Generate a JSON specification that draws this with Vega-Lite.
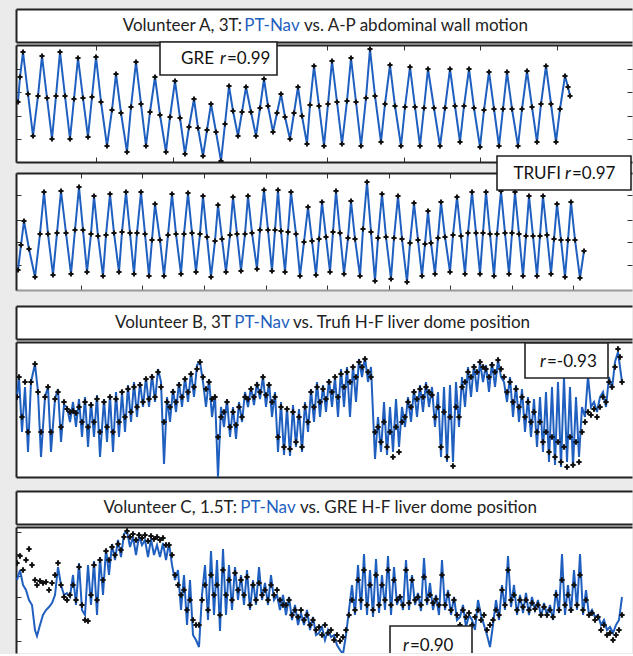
{
"$schema": "https://vega.github.io/schema/vega-lite/v6.json",
"background": "#ebebeb",
"padding": {"left": 15, "top": 9, "right": 0, "bottom": 0},
"spacing": 0,
"bounds": "flush",
"config": {
  "view": {"stroke": null, "fill": "white"},
  "axis": {"labels": false, "domain": false, "grid": false, "domainColor": "#222", "domainWidth": 2, "tickColor": "#333", "tickSize": -5, "tickWidth": 1},
  "text": {"font": "Lato"}
},
"vconcat": [
    {"width": 616, "height": 33,
     "data": {"values": [{"part": "Volunteer A, 3T:", "k": "a"}, {"part": "PT-Nav", "k": "b"}, {"part": "vs. A-P abdominal wall motion", "k": "c"}]},
     "layer": [
      {"transform": [{"filter": "datum.k == 'a'"}], "mark": {"type": "text", "align": "right", "baseline": "middle", "fontSize": 17, "color": "#222"},
       "encoding": {"x": {"datum": 242, "type": "quantitative", "scale": {"domain": [16, 632], "nice": false, "zero": false}, "axis": {"orient": "top", "domain": true, "ticks": false, "title": null}}, "y": {"datum": 16.5, "type": "quantitative", "scale": {"domain": [0, 33], "nice": false, "zero": false}, "axis": {"orient": "left", "domain": true, "ticks": false, "title": null}}, "text": {"field": "part"}}},
      {"transform": [{"filter": "datum.k == 'b'"}], "mark": {"type": "text", "align": "center", "baseline": "middle", "fontSize": 17, "color": "#1f5fbf"},
       "encoding": {"x": {"datum": 272, "type": "quantitative", "scale": {"domain": [16, 632], "nice": false, "zero": false}, "axis": {"orient": "bottom", "domain": true, "ticks": false, "title": null}}, "y": {"datum": 16.5, "type": "quantitative", "scale": {"domain": [0, 33], "nice": false, "zero": false}, "axis": null}, "text": {"field": "part"}}},
      {"transform": [{"filter": "datum.k == 'c'"}], "mark": {"type": "text", "align": "left", "baseline": "middle", "fontSize": 17, "color": "#222"},
       "encoding": {"x": {"datum": 304, "type": "quantitative", "scale": {"domain": [16, 632], "nice": false, "zero": false}, "axis": null}, "y": {"datum": 16.5, "type": "quantitative", "scale": {"domain": [0, 33], "nice": false, "zero": false}, "axis": null}, "text": {"field": "part"}}}
     ],
     "resolve": {"axis": {"x": "independent", "y": "independent"}}},
    {"width": 616, "height": 3, "data": {"values": [{}]}, "mark": {"type": "text", "text": ""}},
    {"width": 616, "height": 117,
     "data": {"values": [
{"t":18,"v":60},{"t":20,"v":85},{"t":23,"v":110},{"t":28,"v":68},{"t":33,"v":26},{"t":38,"v":66},
{"t":42,"v":106},{"t":47,"v":64},{"t":52,"v":23},{"t":56,"v":66},
{"t":60,"v":110},{"t":65,"v":66},{"t":70,"v":23},{"t":74,"v":63},
{"t":78,"v":104},{"t":83,"v":64},{"t":88,"v":25},{"t":92,"v":65},
{"t":96,"v":105},{"t":101,"v":60},{"t":107,"v":16},{"t":112,"v":52},
{"t":116,"v":88},{"t":121,"v":49},{"t":127,"v":10},{"t":131,"v":55},
{"t":136,"v":100},{"t":141,"v":58},{"t":146,"v":16},{"t":150,"v":50},
{"t":155,"v":85},{"t":160,"v":47},{"t":166,"v":10},{"t":170,"v":45},
{"t":175,"v":81},{"t":180,"v":44},{"t":185,"v":8},{"t":189,"v":35},
{"t":194,"v":63},{"t":198,"v":34},{"t":203,"v":6},{"t":207,"v":32},
{"t":211,"v":58},{"t":216,"v":30},{"t":221,"v":1},{"t":225,"v":38},
{"t":229,"v":76},{"t":233,"v":51},{"t":238,"v":26},{"t":242,"v":50},
{"t":246,"v":75},{"t":251,"v":50},{"t":256,"v":26},{"t":260,"v":54},
{"t":264,"v":83},{"t":268,"v":56},{"t":273,"v":30},{"t":277,"v":49},
{"t":281,"v":68},{"t":285,"v":45},{"t":290,"v":23},{"t":294,"v":49},
{"t":298,"v":75},{"t":302,"v":46},{"t":307,"v":18},{"t":310,"v":57},
{"t":314,"v":96},{"t":319,"v":56},{"t":324,"v":16},{"t":328,"v":58},
{"t":332,"v":101},{"t":337,"v":60},{"t":342,"v":18},{"t":347,"v":61},
{"t":351,"v":104},{"t":356,"v":60},{"t":361,"v":16},{"t":366,"v":64},
{"t":370,"v":113},{"t":375,"v":66},{"t":381,"v":20},{"t":385,"v":58},
{"t":390,"v":97},{"t":395,"v":56},{"t":401,"v":16},{"t":405,"v":55},
{"t":410,"v":95},{"t":415,"v":55},{"t":420,"v":16},{"t":424,"v":54},
{"t":428,"v":93},{"t":434,"v":54},{"t":440,"v":16},{"t":445,"v":54},
{"t":450,"v":93},{"t":455,"v":56},{"t":460,"v":20},{"t":464,"v":56},
{"t":469,"v":93},{"t":474,"v":54},{"t":480,"v":15},{"t":484,"v":52},
{"t":489,"v":90},{"t":494,"v":53},{"t":499,"v":16},{"t":503,"v":53},
{"t":507,"v":90},{"t":512,"v":53},{"t":518,"v":16},{"t":522,"v":53},
{"t":527,"v":91},{"t":532,"v":55},{"t":537,"v":20},{"t":541,"v":58},
{"t":546,"v":96},{"t":551,"v":58},{"t":556,"v":20},{"t":560,"v":53},
{"t":565,"v":86},{"t":568,"v":75},{"t":570,"v":66}
     ]},
     "layer": [
      {"mark": {"type": "line", "color": "#1f5fbf", "strokeWidth": 2, "clip": true},
       "encoding": {
        "x": {"field": "t", "type": "quantitative", "scale": {"domain": [16, 632], "nice": false, "zero": false}, "axis": {"orient": "top", "domain": true, "values": [96, 173, 250, 327, 404, 480, 557], "title": null}},
        "y": {"field": "v", "type": "quantitative", "scale": {"domain": [0, 117], "nice": false, "zero": false}, "axis": {"orient": "left", "domain": true, "values": [23, 46, 70, 93], "title": null}}}},
      {"mark": {"type": "point", "shape": "cross", "filled": true, "color": "#111", "size": 26, "opacity": 1, "clip": true},
       "encoding": {
        "x": {"field": "t", "type": "quantitative", "scale": {"domain": [16, 632], "nice": false, "zero": false}, "axis": {"orient": "bottom", "domain": true, "values": [96, 173, 250, 327, 404, 480, 557], "title": null}},
        "y": {"field": "v", "type": "quantitative", "scale": {"domain": [0, 117], "nice": false, "zero": false}, "axis": {"orient": "right", "values": [23, 46, 70, 93], "title": null}}}},
      {"data": {"values": [{"method": "GRE", "r": "=0.99"}]},
       "layer": [
        {"mark": {"type": "rect", "fill": "white", "stroke": "#222", "strokeWidth": 1.6},
         "encoding": {"x": {"datum": 160, "type": "quantitative", "scale": {"domain": [16, 632], "nice": false, "zero": false}, "axis": null}, "x2": {"datum": 277}, "y": {"datum": 87, "type": "quantitative", "scale": {"domain": [0, 117], "nice": false, "zero": false}, "axis": null}, "y2": {"datum": 120}}},
        {"mark": {"type": "text", "align": "right", "baseline": "middle", "fontSize": 17, "color": "#111"},
         "encoding": {"x": {"datum": 214, "type": "quantitative", "scale": {"domain": [16, 632], "nice": false, "zero": false}, "axis": null}, "y": {"datum": 103, "type": "quantitative", "scale": {"domain": [0, 117], "nice": false, "zero": false}, "axis": null}, "text": {"field": "method"}}},
        {"mark": {"type": "text", "align": "center", "baseline": "middle", "fontSize": 17, "fontStyle": "italic", "color": "#111", "text": "r"},
         "encoding": {"x": {"datum": 223, "type": "quantitative", "scale": {"domain": [16, 632], "nice": false, "zero": false}, "axis": null}, "y": {"datum": 103, "type": "quantitative", "scale": {"domain": [0, 117], "nice": false, "zero": false}, "axis": null}}},
        {"mark": {"type": "text", "align": "left", "baseline": "middle", "fontSize": 17, "color": "#111"},
         "encoding": {"x": {"datum": 227, "type": "quantitative", "scale": {"domain": [16, 632], "nice": false, "zero": false}, "axis": null}, "y": {"datum": 103, "type": "quantitative", "scale": {"domain": [0, 117], "nice": false, "zero": false}, "axis": null}, "text": {"field": "r"}}}
       ]}
     ],
     "resolve": {"axis": {"x": "independent", "y": "independent"}}},
    {"width": 616, "height": 11, "data": {"values": [{}]}, "mark": {"type": "text", "text": ""}},
    {"width": 616, "height": 117,
     "data": {"values": [
{"t":18,"v":20},{"t":21,"v":45},{"t":24,"v":69},{"t":29,"v":41},{"t":35,"v":13},{"t":40,"v":56},
{"t":44,"v":98},{"t":48,"v":56},{"t":53,"v":15},{"t":57,"v":57},
{"t":61,"v":99},{"t":66,"v":57},{"t":71,"v":16},{"t":75,"v":60},
{"t":79,"v":103},{"t":83,"v":60},{"t":87,"v":18},{"t":91,"v":56},
{"t":94,"v":94},{"t":98,"v":54},{"t":103,"v":14},{"t":106,"v":55},
{"t":110,"v":96},{"t":114,"v":57},{"t":119,"v":18},{"t":122,"v":58},
{"t":126,"v":98},{"t":130,"v":57},{"t":134,"v":16},{"t":137,"v":57},
{"t":141,"v":98},{"t":145,"v":56},{"t":149,"v":14},{"t":152,"v":50},
{"t":155,"v":86},{"t":160,"v":50},{"t":164,"v":14},{"t":168,"v":55},
{"t":172,"v":96},{"t":176,"v":56},{"t":181,"v":16},{"t":184,"v":56},
{"t":188,"v":97},{"t":192,"v":57},{"t":196,"v":18},{"t":200,"v":56},
{"t":203,"v":94},{"t":207,"v":53},{"t":211,"v":13},{"t":215,"v":49},
{"t":218,"v":85},{"t":222,"v":51},{"t":226,"v":18},{"t":230,"v":55},
{"t":233,"v":93},{"t":237,"v":56},{"t":241,"v":19},{"t":245,"v":56},
{"t":248,"v":94},{"t":252,"v":57},{"t":257,"v":21},{"t":260,"v":60},
{"t":264,"v":100},{"t":268,"v":60},{"t":272,"v":19},{"t":275,"v":60},
{"t":278,"v":100},{"t":281,"v":59},{"t":285,"v":18},{"t":288,"v":58},
{"t":291,"v":98},{"t":296,"v":56},{"t":300,"v":14},{"t":304,"v":48},
{"t":308,"v":83},{"t":312,"v":49},{"t":316,"v":15},{"t":319,"v":51},
{"t":322,"v":88},{"t":326,"v":53},{"t":330,"v":18},{"t":333,"v":58},
{"t":336,"v":99},{"t":340,"v":57},{"t":344,"v":16},{"t":348,"v":52},
{"t":351,"v":89},{"t":355,"v":51},{"t":360,"v":14},{"t":363,"v":61},
{"t":367,"v":108},{"t":371,"v":58},{"t":375,"v":9},{"t":378,"v":52},
{"t":382,"v":96},{"t":386,"v":53},{"t":391,"v":11},{"t":394,"v":52},
{"t":398,"v":94},{"t":402,"v":51},{"t":407,"v":8},{"t":410,"v":47},
{"t":414,"v":87},{"t":418,"v":50},{"t":422,"v":14},{"t":425,"v":46},
{"t":428,"v":79},{"t":431,"v":47},{"t":435,"v":16},{"t":438,"v":52},
{"t":441,"v":88},{"t":445,"v":53},{"t":450,"v":18},{"t":453,"v":55},
{"t":457,"v":93},{"t":461,"v":54},{"t":465,"v":16},{"t":468,"v":57},
{"t":472,"v":98},{"t":476,"v":57},{"t":480,"v":16},{"t":483,"v":57},
{"t":486,"v":98},{"t":490,"v":56},{"t":494,"v":14},{"t":497,"v":56},
{"t":501,"v":99},{"t":505,"v":57},{"t":509,"v":16},{"t":512,"v":57},
{"t":515,"v":98},{"t":519,"v":56},{"t":523,"v":14},{"t":526,"v":54},
{"t":529,"v":94},{"t":533,"v":54},{"t":537,"v":14},{"t":540,"v":54},
{"t":543,"v":94},{"t":547,"v":55},{"t":551,"v":16},{"t":554,"v":51},
{"t":557,"v":86},{"t":561,"v":50},{"t":565,"v":13},{"t":568,"v":50},
{"t":571,"v":88},{"t":575,"v":50},{"t":580,"v":12},{"t":584,"v":39}
     ]},
     "layer": [
      {"mark": {"type": "line", "color": "#1f5fbf", "strokeWidth": 2, "clip": true},
       "encoding": {
        "x": {"field": "t", "type": "quantitative", "scale": {"domain": [16, 632], "nice": false, "zero": false}, "axis": {"orient": "top", "domain": true, "values": [81, 142, 204, 266, 327, 389, 450, 512, 573], "title": null}},
        "y": {"field": "v", "type": "quantitative", "scale": {"domain": [0, 117], "nice": false, "zero": false}, "axis": {"orient": "left", "domain": true, "values": [25, 48, 70, 95], "title": null}}}},
      {"mark": {"type": "point", "shape": "cross", "filled": true, "color": "#111", "size": 26, "opacity": 1, "clip": true},
       "encoding": {
        "x": {"field": "t", "type": "quantitative", "scale": {"domain": [16, 632], "nice": false, "zero": false}, "axis": {"orient": "bottom", "domain": true, "domainColor": "#999", "values": [81, 142, 204, 266, 327, 389, 450, 512, 573], "title": null}},
        "y": {"field": "v", "type": "quantitative", "scale": {"domain": [0, 117], "nice": false, "zero": false}, "axis": {"orient": "right", "values": [25, 48, 70, 95], "title": null}}}},
      {"data": {"values": [{"method": "TRUFI", "r": "=0.97"}]},
       "layer": [
        {"mark": {"type": "rect", "fill": "white", "stroke": "#222", "strokeWidth": 1.6},
         "encoding": {"x": {"datum": 497, "type": "quantitative", "scale": {"domain": [16, 632], "nice": false, "zero": false}, "axis": null}, "x2": {"datum": 631}, "y": {"datum": 100, "type": "quantitative", "scale": {"domain": [0, 117], "nice": false, "zero": false}, "axis": null}, "y2": {"datum": 134}}},
        {"mark": {"type": "text", "align": "right", "baseline": "middle", "fontSize": 17, "color": "#111"},
         "encoding": {"x": {"datum": 561, "type": "quantitative", "scale": {"domain": [16, 632], "nice": false, "zero": false}, "axis": null}, "y": {"datum": 116, "type": "quantitative", "scale": {"domain": [0, 117], "nice": false, "zero": false}, "axis": null}, "text": {"field": "method"}}},
        {"mark": {"type": "text", "align": "center", "baseline": "middle", "fontSize": 17, "fontStyle": "italic", "color": "#111", "text": "r"},
         "encoding": {"x": {"datum": 568, "type": "quantitative", "scale": {"domain": [16, 632], "nice": false, "zero": false}, "axis": null}, "y": {"datum": 116, "type": "quantitative", "scale": {"domain": [0, 117], "nice": false, "zero": false}, "axis": null}}},
        {"mark": {"type": "text", "align": "left", "baseline": "middle", "fontSize": 17, "color": "#111"},
         "encoding": {"x": {"datum": 572, "type": "quantitative", "scale": {"domain": [16, 632], "nice": false, "zero": false}, "axis": null}, "y": {"datum": 116, "type": "quantitative", "scale": {"domain": [0, 117], "nice": false, "zero": false}, "axis": null}, "text": {"field": "r"}}}
       ]}
     ],
     "resolve": {"axis": {"x": "independent", "y": "independent"}}},
    {"width": 616, "height": 7, "data": {"values": [{}]}, "mark": {"type": "text", "text": ""}},
    {"width": 616, "height": 7, "view": {"fill": null}, "data": {"values": [{}]}, "mark": {"type": "text", "text": ""}},
    {"width": 616, "height": 2, "data": {"values": [{}]}, "mark": {"type": "text", "text": ""}},
    {"width": 616, "height": 33,
     "data": {"values": [{"part": "Volunteer B, 3T", "k": "a"}, {"part": "PT-Nav", "k": "b"}, {"part": "vs. Trufi H-F liver dome position", "k": "c"}]},
     "layer": [
      {"transform": [{"filter": "datum.k == 'a'"}], "mark": {"type": "text", "align": "right", "baseline": "middle", "fontSize": 17, "color": "#222"},
       "encoding": {"x": {"datum": 231, "type": "quantitative", "scale": {"domain": [16, 632], "nice": false, "zero": false}, "axis": {"orient": "top", "domain": true, "ticks": false, "title": null}}, "y": {"datum": 16.5, "type": "quantitative", "scale": {"domain": [0, 33], "nice": false, "zero": false}, "axis": {"orient": "left", "domain": true, "ticks": false, "title": null}}, "text": {"field": "part"}}},
      {"transform": [{"filter": "datum.k == 'b'"}], "mark": {"type": "text", "align": "center", "baseline": "middle", "fontSize": 17, "color": "#1f5fbf"},
       "encoding": {"x": {"datum": 262, "type": "quantitative", "scale": {"domain": [16, 632], "nice": false, "zero": false}, "axis": {"orient": "bottom", "domain": true, "ticks": false, "title": null}}, "y": {"datum": 16.5, "type": "quantitative", "scale": {"domain": [0, 33], "nice": false, "zero": false}, "axis": null}, "text": {"field": "part"}}},
      {"transform": [{"filter": "datum.k == 'c'"}], "mark": {"type": "text", "align": "left", "baseline": "middle", "fontSize": 17, "color": "#222"},
       "encoding": {"x": {"datum": 293, "type": "quantitative", "scale": {"domain": [16, 632], "nice": false, "zero": false}, "axis": null}, "y": {"datum": 16.5, "type": "quantitative", "scale": {"domain": [0, 33], "nice": false, "zero": false}, "axis": null}, "text": {"field": "part"}}}
     ],
     "resolve": {"axis": {"x": "independent", "y": "independent"}}},
    {"width": 616, "height": 3, "data": {"values": [{}]}, "mark": {"type": "text", "text": ""}},
    {"width": 616, "height": 135,
     "data": {"values": [
{"t":17,"d":80,"n":80},{"t":19,"d":100,"n":100},{"t":22,"d":60,"n":45},{"t":25,"d":95,"n":90},{"t":28,"d":45,"n":25},{"t":31,"d":95,"n":95},{"t":35,"d":113,"n":113},{"t":38,"d":85,"n":85},{"t":41,"d":45,"n":20},{"t":45,"d":80,"n":80},
{"t":48,"d":90,"n":90},{"t":51,"d":45,"n":25},{"t":55,"d":78,"n":78},{"t":58,"d":85,"n":88},{"t":61,"d":50,"n":35},{"t":64,"d":75,"n":72},{"t":67,"d":68,"n":70},{"t":70,"d":65,"n":55},{"t":73,"d":66,"n":75},{"t":76,"d":64,"n":50},
{"t":79,"d":70,"n":78},{"t":82,"d":55,"n":40},{"t":85,"d":75,"n":80},{"t":88,"d":50,"n":30},{"t":91,"d":72,"n":75},{"t":94,"d":55,"n":40},{"t":97,"d":78,"n":82},{"t":100,"d":45,"n":20},{"t":104,"d":75,"n":78},{"t":107,"d":50,"n":35},
{"t":110,"d":80,"n":82},{"t":113,"d":45,"n":25},{"t":116,"d":78,"n":85},{"t":119,"d":55,"n":40},{"t":122,"d":85,"n":85},{"t":125,"d":60,"n":45},{"t":128,"d":88,"n":92},{"t":131,"d":65,"n":55},{"t":134,"d":90,"n":95},{"t":137,"d":70,"n":60},
{"t":140,"d":92,"n":95},{"t":143,"d":75,"n":70},{"t":146,"d":98,"n":100},{"t":149,"d":78,"n":70},{"t":152,"d":100,"n":103},{"t":155,"d":80,"n":75},{"t":158,"d":105,"n":108},{"t":161,"d":90,"n":95},{"t":164,"d":55,"n":13},{"t":167,"d":75,"n":80},
{"t":170,"d":70,"n":55},{"t":173,"d":85,"n":88},{"t":176,"d":75,"n":65},{"t":179,"d":92,"n":95},{"t":182,"d":80,"n":70},{"t":185,"d":98,"n":100},{"t":188,"d":85,"n":75},{"t":191,"d":103,"n":105},{"t":194,"d":90,"n":80},{"t":197,"d":108,"n":112},
{"t":200,"d":115,"n":115},{"t":203,"d":100,"n":95},{"t":206,"d":88,"n":70},{"t":209,"d":95,"n":98},{"t":212,"d":78,"n":60},{"t":215,"d":80,"n":82},{"t":218,"d":40,"n":0},{"t":221,"d":60,"n":70},{"t":224,"d":65,"n":50},{"t":227,"d":75,"n":78},
{"t":230,"d":50,"n":40},{"t":233,"d":65,"n":70},{"t":236,"d":52,"n":38},{"t":239,"d":70,"n":75},{"t":242,"d":60,"n":55},{"t":245,"d":80,"n":85},{"t":248,"d":78,"n":70},{"t":251,"d":88,"n":90},{"t":254,"d":80,"n":72},{"t":257,"d":92,"n":95},
{"t":260,"d":85,"n":78},{"t":263,"d":100,"n":101},{"t":266,"d":82,"n":70},{"t":269,"d":92,"n":95},{"t":272,"d":75,"n":60},{"t":275,"d":80,"n":85},{"t":278,"d":40,"n":25},{"t":281,"d":70,"n":75},{"t":284,"d":30,"n":22},{"t":287,"d":68,"n":70},
{"t":290,"d":28,"n":21},{"t":293,"d":65,"n":72},{"t":296,"d":35,"n":30},{"t":299,"d":60,"n":68},{"t":302,"d":30,"n":25},{"t":305,"d":70,"n":75},{"t":308,"d":55,"n":45},{"t":311,"d":85,"n":88},{"t":314,"d":70,"n":55},{"t":317,"d":90,"n":95},
{"t":320,"d":75,"n":60},{"t":323,"d":88,"n":92},{"t":326,"d":78,"n":65},{"t":329,"d":95,"n":98},{"t":332,"d":85,"n":70},{"t":335,"d":100,"n":100},{"t":338,"d":80,"n":60},{"t":341,"d":103,"n":108},{"t":344,"d":90,"n":70},{"t":347,"d":105,"n":110},
{"t":350,"d":95,"n":60},{"t":353,"d":110,"n":112},{"t":356,"d":100,"n":75},{"t":359,"d":115,"n":118},{"t":362,"d":110,"n":100},{"t":365,"d":118,"n":120},{"t":368,"d":105,"n":95},{"t":371,"d":100,"n":110},{"t":375,"d":45,"n":18},{"t":378,"d":50,"n":60},
{"t":381,"d":35,"n":25},{"t":384,"d":55,"n":75},{"t":387,"d":30,"n":22},{"t":390,"d":45,"n":70},{"t":393,"d":20,"n":25},{"t":396,"d":50,"n":78},{"t":399,"d":25,"n":30},{"t":402,"d":55,"n":70},{"t":405,"d":60,"n":50},{"t":408,"d":75,"n":80},
{"t":411,"d":70,"n":55},{"t":414,"d":85,"n":88},{"t":417,"d":78,"n":60},{"t":420,"d":88,"n":92},{"t":423,"d":80,"n":65},{"t":426,"d":90,"n":95},{"t":429,"d":85,"n":70},{"t":432,"d":82,"n":90},{"t":435,"d":60,"n":50},{"t":438,"d":70,"n":85},
{"t":441,"d":30,"n":20},{"t":444,"d":65,"n":90},{"t":447,"d":20,"n":15},{"t":450,"d":60,"n":92},{"t":453,"d":11,"n":15},{"t":456,"d":70,"n":95},{"t":459,"d":60,"n":50},{"t":462,"d":90,"n":100},{"t":465,"d":95,"n":70},{"t":468,"d":105,"n":110},
{"t":471,"d":100,"n":80},{"t":474,"d":110,"n":113},{"t":477,"d":105,"n":85},{"t":480,"d":115,"n":115},{"t":483,"d":110,"n":95},{"t":486,"d":108,"n":112},{"t":489,"d":100,"n":85},{"t":492,"d":112,"n":115},{"t":495,"d":105,"n":90},{"t":498,"d":117,"n":117},
{"t":501,"d":108,"n":100},{"t":504,"d":100,"n":95},{"t":507,"d":85,"n":75},{"t":510,"d":95,"n":100},{"t":513,"d":75,"n":60},{"t":516,"d":88,"n":92},{"t":519,"d":70,"n":55},{"t":522,"d":80,"n":88},{"t":525,"d":60,"n":45},{"t":528,"d":75,"n":80},
{"t":531,"d":55,"n":40},{"t":534,"d":65,"n":78},{"t":537,"d":45,"n":30},{"t":540,"d":55,"n":80},{"t":543,"d":35,"n":25},{"t":546,"d":45,"n":85},{"t":549,"d":25,"n":15},{"t":552,"d":40,"n":90},{"t":555,"d":20,"n":12},{"t":558,"d":35,"n":95},
{"t":561,"d":15,"n":10},{"t":564,"d":30,"n":100},{"t":567,"d":10,"n":15},{"t":570,"d":40,"n":90},{"t":573,"d":12,"n":10},{"t":576,"d":35,"n":80},{"t":579,"d":15,"n":20},{"t":582,"d":45,"n":70},{"t":585,"d":55,"n":60},{"t":588,"d":65,"n":101},
{"t":591,"d":62,"n":70},{"t":594,"d":68,"n":75},{"t":597,"d":60,"n":65},{"t":600,"d":70,"n":80},{"t":603,"d":80,"n":85},{"t":606,"d":75,"n":70},{"t":609,"d":95,"n":100},{"t":612,"d":90,"n":88},{"t":615,"d":110,"n":115},{"t":618,"d":128,"n":125},
{"t":620,"d":120,"n":110},{"t":622,"d":95,"n":95}
     ]},
     "layer": [
      {"mark": {"type": "line", "color": "#1f5fbf", "strokeWidth": 2, "clip": true},
       "encoding": {
        "x": {"field": "t", "type": "quantitative", "scale": {"domain": [16, 632], "nice": false, "zero": false}, "axis": {"orient": "top", "domain": true, "ticks": false, "title": null}},
        "y": {"field": "n", "type": "quantitative", "scale": {"domain": [0, 135], "nice": false, "zero": false}, "axis": {"orient": "left", "domain": true, "ticks": false, "title": null}}}},
      {"mark": {"type": "point", "shape": "cross", "filled": true, "color": "#111", "size": 28, "opacity": 1, "clip": true},
       "encoding": {
        "x": {"field": "t", "type": "quantitative", "scale": {"domain": [16, 632], "nice": false, "zero": false}, "axis": {"orient": "bottom", "domain": true, "ticks": false, "title": null}},
        "y": {"field": "d", "type": "quantitative", "scale": {"domain": [0, 135], "nice": false, "zero": false}, "axis": null}}},
      {"data": {"values": [{"r": "=-0.93"}]},
       "layer": [
        {"mark": {"type": "rect", "fill": "white", "stroke": "#222", "strokeWidth": 1.6},
         "encoding": {"x": {"datum": 525, "type": "quantitative", "scale": {"domain": [16, 632], "nice": false, "zero": false}, "axis": null}, "x2": {"datum": 608}, "y": {"datum": 99, "type": "quantitative", "scale": {"domain": [0, 135], "nice": false, "zero": false}, "axis": null}, "y2": {"datum": 134}}},
        {"mark": {"type": "text", "align": "center", "baseline": "middle", "fontSize": 17, "fontStyle": "italic", "color": "#111", "text": "r"},
         "encoding": {"x": {"datum": 543, "type": "quantitative", "scale": {"domain": [16, 632], "nice": false, "zero": false}, "axis": null}, "y": {"datum": 115, "type": "quantitative", "scale": {"domain": [0, 135], "nice": false, "zero": false}, "axis": null}}},
        {"mark": {"type": "text", "align": "left", "baseline": "middle", "fontSize": 17, "color": "#111"},
         "encoding": {"x": {"datum": 547, "type": "quantitative", "scale": {"domain": [16, 632], "nice": false, "zero": false}, "axis": null}, "y": {"datum": 115, "type": "quantitative", "scale": {"domain": [0, 135], "nice": false, "zero": false}, "axis": null}, "text": {"field": "r"}}}
       ]}
     ],
     "resolve": {"axis": {"x": "independent", "y": "independent"}}},
    {"width": 616, "height": 7, "data": {"values": [{}]}, "mark": {"type": "text", "text": ""}},
    {"width": 616, "height": 5, "view": {"fill": null}, "data": {"values": [{}]}, "mark": {"type": "text", "text": ""}},
    {"width": 616, "height": 2, "data": {"values": [{}]}, "mark": {"type": "text", "text": ""}},
    {"width": 616, "height": 33,
     "data": {"values": [{"part": "Volunteer C, 1.5T:", "k": "a"}, {"part": "PT-Nav", "k": "b"}, {"part": "vs. GRE H-F liver dome position", "k": "c"}]},
     "layer": [
      {"transform": [{"filter": "datum.k == 'a'"}], "mark": {"type": "text", "align": "right", "baseline": "middle", "fontSize": 17, "color": "#222"},
       "encoding": {"x": {"datum": 237, "type": "quantitative", "scale": {"domain": [16, 632], "nice": false, "zero": false}, "axis": {"orient": "top", "domain": true, "ticks": false, "title": null}}, "y": {"datum": 16.5, "type": "quantitative", "scale": {"domain": [0, 33], "nice": false, "zero": false}, "axis": {"orient": "left", "domain": true, "ticks": false, "title": null}}, "text": {"field": "part"}}},
      {"transform": [{"filter": "datum.k == 'b'"}], "mark": {"type": "text", "align": "center", "baseline": "middle", "fontSize": 17, "color": "#1f5fbf"},
       "encoding": {"x": {"datum": 268, "type": "quantitative", "scale": {"domain": [16, 632], "nice": false, "zero": false}, "axis": {"orient": "bottom", "domain": true, "ticks": false, "title": null}}, "y": {"datum": 16.5, "type": "quantitative", "scale": {"domain": [0, 33], "nice": false, "zero": false}, "axis": null}, "text": {"field": "part"}}},
      {"transform": [{"filter": "datum.k == 'c'"}], "mark": {"type": "text", "align": "left", "baseline": "middle", "fontSize": 17, "color": "#222"},
       "encoding": {"x": {"datum": 300, "type": "quantitative", "scale": {"domain": [16, 632], "nice": false, "zero": false}, "axis": null}, "y": {"datum": 16.5, "type": "quantitative", "scale": {"domain": [0, 33], "nice": false, "zero": false}, "axis": null}, "text": {"field": "part"}}}
     ],
     "resolve": {"axis": {"x": "independent", "y": "independent"}}},
    {"width": 616, "height": 3, "data": {"values": [{}]}, "mark": {"type": "text", "text": ""}},
    {"width": 616, "height": 126,
     "data": {"values": [
{"t":17,"d":92,"n":75},{"t":20,"d":99,"n":85},{"t":23,"d":85,"n":70},{"t":26,"d":95,"n":65},{"t":29,"d":106,"n":55},{"t":32,"d":90,"n":50},{"t":35,"d":75,"n":25},{"t":37,"d":70,"n":19},{"t":40,"d":74,"n":30},{"t":43,"d":72,"n":40},
{"t":46,"d":73,"n":45},{"t":49,"d":65,"n":48},{"t":52,"d":72,"n":52},{"t":55,"d":80,"n":60},{"t":58,"d":92,"n":88},{"t":61,"d":70,"n":70},{"t":64,"d":58,"n":60},{"t":67,"d":55,"n":62},{"t":70,"d":60,"n":58},{"t":73,"d":70,"n":80},
{"t":76,"d":55,"n":50},{"t":79,"d":88,"n":92},{"t":82,"d":50,"n":45},{"t":85,"d":35,"n":40},{"t":88,"d":34,"n":90},{"t":91,"d":60,"n":50},{"t":94,"d":90,"n":94},{"t":97,"d":55,"n":40},{"t":100,"d":95,"n":98},{"t":103,"d":75,"n":60},
{"t":106,"d":104,"n":106},{"t":109,"d":95,"n":80},{"t":112,"d":108,"n":111},{"t":115,"d":100,"n":95},{"t":118,"d":111,"n":115},{"t":121,"d":105,"n":98},{"t":124,"d":118,"n":121},{"t":127,"d":124,"n":124},{"t":130,"d":118,"n":108},{"t":133,"d":121,"n":118},
{"t":136,"d":115,"n":100},{"t":139,"d":120,"n":119},{"t":142,"d":117,"n":110},{"t":145,"d":120,"n":115},{"t":148,"d":114,"n":98},{"t":151,"d":119,"n":116},{"t":154,"d":116,"n":100},{"t":157,"d":118,"n":110},{"t":160,"d":115,"n":98},{"t":163,"d":117,"n":112},
{"t":166,"d":110,"n":95},{"t":169,"d":110,"n":112},{"t":172,"d":100,"n":90},{"t":175,"d":80,"n":75},{"t":178,"d":70,"n":85},{"t":181,"d":60,"n":45},{"t":184,"d":65,"n":80},{"t":187,"d":45,"n":30},{"t":190,"d":55,"n":75},{"t":193,"d":35,"n":20},
{"t":196,"d":30,"n":15},{"t":199,"d":30,"n":8},{"t":202,"d":55,"n":60},{"t":205,"d":70,"n":90},{"t":208,"d":45,"n":35},{"t":211,"d":80,"n":104},{"t":214,"d":60,"n":40},{"t":217,"d":70,"n":95},{"t":220,"d":40,"n":24},{"t":223,"d":85,"n":106},
{"t":226,"d":60,"n":40},{"t":229,"d":75,"n":90},{"t":232,"d":55,"n":45},{"t":235,"d":82,"n":88},{"t":238,"d":65,"n":55},{"t":241,"d":75,"n":80},{"t":244,"d":60,"n":50},{"t":247,"d":78,"n":85},{"t":250,"d":50,"n":45},{"t":253,"d":70,"n":75},
{"t":256,"d":55,"n":50},{"t":259,"d":72,"n":88},{"t":262,"d":60,"n":55},{"t":265,"d":65,"n":72},{"t":268,"d":55,"n":50},{"t":271,"d":70,"n":80},{"t":274,"d":60,"n":55},{"t":277,"d":65,"n":60},{"t":280,"d":55,"n":45},{"t":283,"d":50,"n":60},
{"t":286,"d":50,"n":40},{"t":289,"d":55,"n":58},{"t":292,"d":40,"n":35},{"t":295,"d":45,"n":50},{"t":298,"d":38,"n":30},{"t":301,"d":45,"n":42},{"t":304,"d":35,"n":30},{"t":307,"d":40,"n":45},{"t":310,"d":30,"n":25},{"t":313,"d":35,"n":38},
{"t":316,"d":25,"n":20},{"t":319,"d":28,"n":22},{"t":322,"d":20,"n":28},{"t":325,"d":30,"n":15},{"t":328,"d":22,"n":25},{"t":331,"d":25,"n":18},{"t":334,"d":15,"n":20},{"t":337,"d":20,"n":10},{"t":340,"d":14,"n":5},{"t":343,"d":18,"n":1},
{"t":346,"d":25,"n":20},{"t":349,"d":40,"n":45},{"t":352,"d":55,"n":70},{"t":355,"d":45,"n":40},{"t":358,"d":75,"n":90},{"t":361,"d":55,"n":45},{"t":364,"d":85,"n":101},{"t":367,"d":50,"n":40},{"t":370,"d":70,"n":85},{"t":373,"d":45,"n":38},
{"t":376,"d":80,"n":96},{"t":379,"d":50,"n":42},{"t":382,"d":70,"n":80},{"t":385,"d":55,"n":45},{"t":388,"d":85,"n":99},{"t":391,"d":50,"n":40},{"t":394,"d":75,"n":88},{"t":397,"d":55,"n":50},{"t":400,"d":58,"n":60},{"t":403,"d":50,"n":45},
{"t":406,"d":85,"n":95},{"t":409,"d":52,"n":45},{"t":412,"d":75,"n":80},{"t":415,"d":55,"n":50},{"t":418,"d":58,"n":62},{"t":421,"d":50,"n":44},{"t":424,"d":78,"n":97},{"t":427,"d":55,"n":50},{"t":430,"d":60,"n":72},{"t":433,"d":52,"n":45},
{"t":436,"d":56,"n":60},{"t":439,"d":50,"n":40},{"t":442,"d":80,"n":95},{"t":445,"d":50,"n":45},{"t":448,"d":60,"n":65},{"t":451,"d":45,"n":40},{"t":454,"d":55,"n":58},{"t":457,"d":40,"n":35},{"t":460,"d":30,"n":38},{"t":463,"d":45,"n":50},
{"t":466,"d":38,"n":28},{"t":469,"d":42,"n":40},{"t":472,"d":30,"n":35},{"t":475,"d":38,"n":25},{"t":478,"d":45,"n":55},{"t":481,"d":35,"n":40},{"t":484,"d":40,"n":30},{"t":487,"d":25,"n":20},{"t":490,"d":30,"n":8},{"t":493,"d":35,"n":30},
{"t":496,"d":45,"n":55},{"t":499,"d":40,"n":35},{"t":502,"d":65,"n":70},{"t":505,"d":50,"n":45},{"t":508,"d":85,"n":99},{"t":511,"d":55,"n":48},{"t":514,"d":60,"n":70},{"t":517,"d":45,"n":40},{"t":520,"d":55,"n":60},{"t":523,"d":48,"n":42},
{"t":526,"d":55,"n":62},{"t":529,"d":45,"n":40},{"t":532,"d":52,"n":58},{"t":535,"d":46,"n":45},{"t":538,"d":50,"n":55},{"t":541,"d":40,"n":38},{"t":544,"d":48,"n":52},{"t":547,"d":40,"n":40},{"t":550,"d":45,"n":50},{"t":553,"d":38,"n":35},
{"t":556,"d":60,"n":65},{"t":559,"d":45,"n":42},{"t":562,"d":75,"n":101},{"t":565,"d":50,"n":40},{"t":568,"d":60,"n":70},{"t":571,"d":45,"n":42},{"t":574,"d":70,"n":85},{"t":577,"d":50,"n":45},{"t":580,"d":80,"n":101},{"t":583,"d":45,"n":40},
{"t":586,"d":55,"n":65},{"t":589,"d":40,"n":40},{"t":592,"d":42,"n":45},{"t":595,"d":35,"n":38},{"t":598,"d":38,"n":40},{"t":601,"d":25,"n":30},{"t":604,"d":30,"n":35},{"t":607,"d":20,"n":25},{"t":610,"d":22,"n":28},{"t":613,"d":15,"n":22},
{"t":616,"d":20,"n":30},{"t":619,"d":25,"n":35},{"t":622,"d":40,"n":58}
     ]},
     "layer": [
      {"mark": {"type": "line", "color": "#1f5fbf", "strokeWidth": 2, "clip": true},
       "encoding": {
        "x": {"field": "t", "type": "quantitative", "scale": {"domain": [16, 632], "nice": false, "zero": false}, "axis": {"orient": "top", "domain": true, "ticks": false, "title": null}},
        "y": {"field": "n", "type": "quantitative", "scale": {"domain": [2, 128], "nice": false, "zero": false}, "axis": {"orient": "left", "domain": true, "values": [14, 36, 58, 79, 101, 123], "title": null}}}},
      {"mark": {"type": "point", "shape": "cross", "filled": true, "color": "#111", "size": 28, "opacity": 1, "clip": true},
       "encoding": {
        "x": {"field": "t", "type": "quantitative", "scale": {"domain": [16, 632], "nice": false, "zero": false}, "axis": null},
        "y": {"field": "d", "type": "quantitative", "scale": {"domain": [2, 128], "nice": false, "zero": false}, "axis": null}}},
      {"data": {"values": [{"r": "=0.90"}]},
       "layer": [
        {"mark": {"type": "rect", "fill": "white", "stroke": "#222", "strokeWidth": 1.6, "clip": true},
         "encoding": {"x": {"datum": 390, "type": "quantitative", "scale": {"domain": [16, 632], "nice": false, "zero": false}, "axis": null}, "x2": {"datum": 472}, "y": {"datum": -10, "type": "quantitative", "scale": {"domain": [2, 128], "nice": false, "zero": false}, "axis": null}, "y2": {"datum": 29}}},
        {"mark": {"type": "text", "align": "center", "baseline": "middle", "fontSize": 17, "fontStyle": "italic", "color": "#111", "text": "r"},
         "encoding": {"x": {"datum": 406, "type": "quantitative", "scale": {"domain": [16, 632], "nice": false, "zero": false}, "axis": null}, "y": {"datum": 9, "type": "quantitative", "scale": {"domain": [2, 128], "nice": false, "zero": false}, "axis": null}}},
        {"mark": {"type": "text", "align": "left", "baseline": "middle", "fontSize": 17, "color": "#111"},
         "encoding": {"x": {"datum": 410, "type": "quantitative", "scale": {"domain": [16, 632], "nice": false, "zero": false}, "axis": null}, "y": {"datum": 9, "type": "quantitative", "scale": {"domain": [2, 128], "nice": false, "zero": false}, "axis": null}, "text": {"field": "r"}}}
       ]}
     ],
     "resolve": {"axis": {"x": "independent", "y": "independent"}}}
]
}
